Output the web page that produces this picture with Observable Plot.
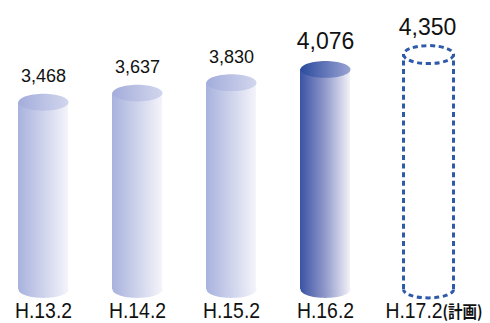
<!DOCTYPE html>
<html><head><meta charset="utf-8">
<script src="https://cdn.jsdelivr.net/npm/d3@7"></script>
<script src="https://cdn.jsdelivr.net/npm/@observablehq/plot@0.6"></script>
<style>
html,body{margin:0;padding:0;background:#fff;}
#chart svg{display:block;}
</style></head><body>
<svg width="0" height="0" style="position:absolute;left:0;top:0">
  <defs>
    <linearGradient id="bodyLight" x1="0" y1="0" x2="1" y2="0">
      <stop offset="0" stop-color="#a8b2dd"/>
      <stop offset="1" stop-color="#f4f4fa"/>
    </linearGradient>
    <linearGradient id="topLight" x1="0" y1="0" x2="1" y2="0">
      <stop offset="0" stop-color="#a3addb"/>
      <stop offset="1" stop-color="#d2d6ed"/>
    </linearGradient>
    <linearGradient id="bodyDark" x1="0" y1="0" x2="1" y2="0">
      <stop offset="0" stop-color="#3a53a5"/>
      <stop offset="0.5" stop-color="#9199ca"/>
      <stop offset="1" stop-color="#f2f2f8"/>
    </linearGradient>
    <linearGradient id="topDark" x1="0" y1="0" x2="1" y2="0">
      <stop offset="0" stop-color="#2b4b9e"/>
      <stop offset="1" stop-color="#9aa3d3"/>
    </linearGradient>
  </defs>
</svg>
<div id="chart"></div>
<script>
const periods = ["H.13.2", "H.14.2", "H.15.2", "H.16.2", "H.17.2"];
const counts = [3468, 3637, 3830, 4076, 4350];
const status = ["actual", "actual", "actual", "latest", "plan"];
const planNote = "(計画)";

const data = periods.map((p, i) => ({period: p, count: counts[i], status: status[i]}));

const RX = 25, RY = 8.4, K = 0.5523;
const ellipse = (rx, ry) => ({
  draw(ctx) {
    ctx.moveTo(rx, 0);
    ctx.bezierCurveTo(rx, ry * K, rx * K, ry, 0, ry);
    ctx.bezierCurveTo(-rx * K, ry, -rx, ry * K, -rx, 0);
    ctx.bezierCurveTo(-rx, -ry * K, -rx * K, -ry, 0, -ry);
    ctx.bezierCurveTo(rx * K, -ry, rx, -ry * K, rx, 0);
    ctx.closePath();
  }
});
const lowerHalf = (rx, ry) => ({
  draw(ctx) {
    ctx.moveTo(rx, 0);
    ctx.bezierCurveTo(rx, ry * K, rx * K, ry, 0, ry);
    ctx.bezierCurveTo(-rx * K, ry, -rx, ry * K, -rx, 0);
  }
});

const isActual = d => d.status === "actual";
const isLatest = d => d.status === "latest";
const isPlan = d => d.status === "plan";
const planShift = 9;
const dashColor = "#2f5aa9";
const dash = "5,3.6";
const fmt = d3.format(",");

const plot = Plot.plot({
  width: 490,
  height: 323,
  marginLeft: 18,
  marginRight: 46,
  marginTop: 19,
  marginBottom: 34,
  style: {fontFamily: "'Liberation Sans', Arial, sans-serif", color: "#111", background: "#fff"},
  x: {domain: periods, paddingInner: 44 / 94, paddingOuter: 0, axis: null},
  y: {domain: [0, 5000], axis: null},
  marks: [
    Plot.dot(data, {filter: isActual, x: "period", y: () => 0, symbol: ellipse(RX, RY), fill: "url(#bodyLight)", stroke: "none"}),
    Plot.dot(data, {filter: isLatest, x: "period", y: () => 0, symbol: ellipse(RX, RY), fill: "url(#bodyDark)", stroke: "none"}),
    Plot.barY(data, {filter: isActual, x: "period", y1: () => 0, y2: "count", fill: "url(#bodyLight)"}),
    Plot.barY(data, {filter: isLatest, x: "period", y1: () => 0, y2: "count", fill: "url(#bodyDark)"}),
    Plot.dot(data, {filter: isActual, x: "period", y: "count", symbol: ellipse(RX, RY), fill: "url(#topLight)", stroke: "none"}),
    Plot.dot(data, {filter: isLatest, x: "period", y: "count", symbol: ellipse(RX, RY), fill: "url(#topDark)", stroke: "none"}),
    Plot.ruleX(data, {filter: isPlan, x: "period", y1: () => 0, y2: "count", dx: planShift - RX, stroke: dashColor, strokeWidth: 3, strokeDasharray: dash}),
    Plot.ruleX(data, {filter: isPlan, x: "period", y1: () => 0, y2: "count", dx: planShift + RX, stroke: dashColor, strokeWidth: 3, strokeDasharray: dash}),
    Plot.dot(data, {filter: isPlan, x: "period", y: () => 0, dx: planShift, symbol: lowerHalf(RX, RY), fill: "none", stroke: dashColor, strokeWidth: 3, strokeDasharray: dash}),
    Plot.dot(data, {filter: isPlan, x: "period", y: "count", dx: planShift, symbol: ellipse(RX, 9), fill: "none", stroke: dashColor, strokeWidth: 3, strokeDasharray: dash}),
    Plot.text(data, {filter: isActual, x: "period", y: "count", text: d => fmt(d.count), dy: -20, lineAnchor: "bottom", fontSize: 18, fill: "#111"}),
    Plot.text(data, {filter: isLatest, x: "period", y: "count", text: d => fmt(d.count), dy: -20, lineAnchor: "bottom", fontSize: 23, fill: "#111"}),
    Plot.text(data, {filter: isPlan, x: "period", y: "count", text: d => fmt(d.count), dy: -20, dx: planShift - 1, lineAnchor: "bottom", fontSize: 23, fill: "#111"}),
    Plot.axisX({ticks: periods.slice(0, 4), tickSize: 0, tickPadding: 13, fontSize: 22, label: null}),
    Plot.axisX({ticks: periods.slice(4), tickSize: 0, tickPadding: 13, fontSize: 22, label: null, dx: 14.5, tickFormat: d => d + planNote})
  ]
});

// slightly condensed category labels, plan note in a smaller CJK face
d3.select(plot).selectAll('g[aria-label="x-axis tick label"] text').each(function() {
  const sel = d3.select(this);
  const tf = sel.attr("transform") || "";
  sel.attr("transform", tf + " scale(0.88,1)");
  const t = this.textContent;
  if (t.endsWith(planNote)) {
    sel.text(t.slice(0, t.length - planNote.length));
    sel.append("tspan")
      .attr("font-size", 16.5)
      .attr("font-weight", "bold")
      .attr("font-family", "'Noto Sans CJK JP', sans-serif")
      .text(planNote);
  }
});

document.getElementById("chart").append(plot);
</script>
</body></html>
